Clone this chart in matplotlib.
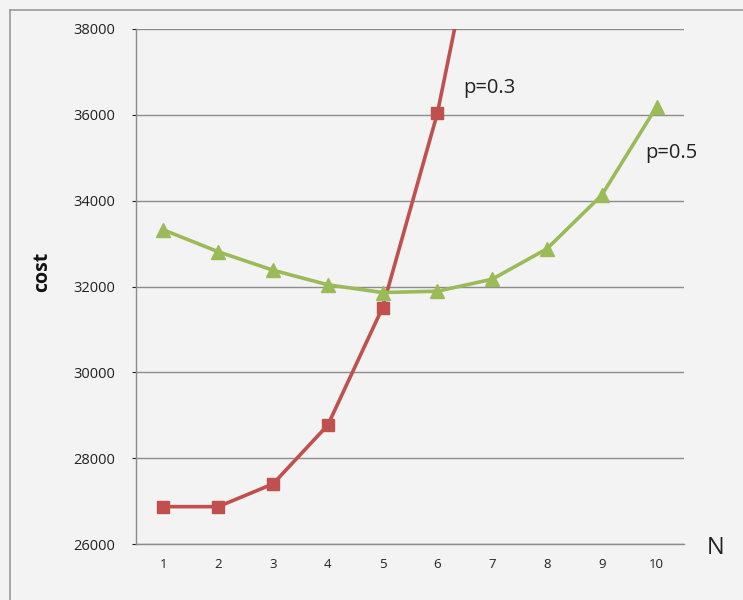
import matplotlib.pyplot as plt
from matplotlib.lines import Line2D

# values
n_values = [1, 2, 3, 4, 5, 6, 7, 8, 9, 10]
cost_p03 = [26870, 26870, 27400, 28770, 31510, 36040, 42300]
cost_p05 = [33320, 32810, 32380, 32040, 31860, 31890, 32170, 32880, 34130, 36190]
y_ticks = [26000, 28000, 30000, 32000, 34000, 36000, 38000]

RED = '#C0504D'
GREEN = '#9BBB59'
BG = '#F3F3F3'

plt.rcParams['font.family'] = ['Open Sans', 'DejaVu Sans']

fig = plt.figure(figsize=(7.43, 6.00), dpi=100, facecolor=BG)
# light frame around the chart (only left and top are visible)
x0, y0 = 10 / 743, 1 - 10 / 600
fig.lines.append(Line2D([x0, x0], [0, y0], transform=fig.transFigure,
                        color='#9a9a9a', lw=1.2))
fig.lines.append(Line2D([x0, 1], [y0, y0], transform=fig.transFigure,
                        color='#9a9a9a', lw=1.2))

ax = fig.add_axes([136 / 743, 1 - 544 / 600, 548 / 743, 515 / 600])
ax.set_facecolor(BG)

ax.plot(n_values[:len(cost_p03)], cost_p03, color=RED, lw=2.6, marker='s',
        markersize=8.5, markeredgecolor=RED, zorder=3, clip_on=True)
ax.plot(n_values, cost_p05, color=GREEN, lw=2.6, marker='^',
        markersize=9.5, markeredgecolor=GREEN, zorder=3, clip_on=True)

ax.set_xlim(0.5, 10.5)
ax.set_ylim(26000, 38000)
ax.set_xticks(n_values)
ax.set_yticks(y_ticks)
ax.set_yticklabels([str(v) for v in y_ticks])
ax.tick_params(axis='x', length=0, pad=10, labelsize=9.5, colors='#222222')
ax.tick_params(axis='y', length=3, pad=12, labelsize=10.5, colors='#222222')
ax.grid(axis='y', color='#8c8c8c', linewidth=1.0)
ax.set_axisbelow(True)

for side in ['top', 'right']:
    ax.spines[side].set_visible(False)
for side in ['left', 'bottom']:
    ax.spines[side].set_color('#8c8c8c')
    ax.spines[side].set_linewidth(1.0)

ax.text(6.47, 36620, 'p=0.3', fontsize=14.5, color='#222222', va='center')
ax.text(9.8, 35110, 'p=0.5', fontsize=14.5, color='#222222', va='center')

fig.text(716 / 743, 1 - 548 / 600, 'N', fontsize=17, color='#222222',
         ha='center', va='center')
fig.text(42 / 743, 1 - 272 / 600, 'cost', fontsize=14, fontweight='bold',
         rotation=90, ha='center', va='center', color='#111111')

fig.savefig('out.png', dpi=100, facecolor=BG)
